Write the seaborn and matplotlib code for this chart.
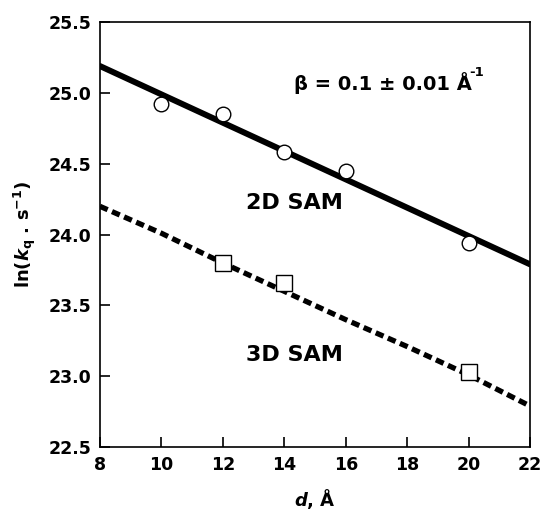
import numpy as np
import pandas as pd
import seaborn as sns
import matplotlib
import matplotlib.pyplot as plt

matplotlib.use('Agg')

# 2D SAM data and fitted line
d_2d = [10, 12, 14, 16, 20]
lnk_2d = [24.92, 24.85, 24.58, 24.45, 23.94]
fit_2d_x = [8, 22]
fit_2d_y = [25.19, 23.79]

# 3D SAM data and fitted (dashed) curve
d_3d = [12, 14, 20]
lnk_3d = [23.80, 23.66, 23.03]
fit_3d_x = [8, 10, 12, 14, 16, 18, 20, 22]
fit_3d_y = [24.20, 24.01, 23.80, 23.60, 23.40, 23.21, 23.01, 22.79]

x_ticks = [8, 10, 12, 14, 16, 18, 20, 22]
y_ticks = [22.5, 23.0, 23.5, 24.0, 24.5, 25.0, 25.5]


def plot_graph(fig_location: str = "out.png"):
    sns.set_style("ticks")
    plt.rcParams['font.family'] = ['DejaVu Sans']
    plt.rcParams['font.weight'] = 'bold'
    plt.rcParams['text.color'] = 'black'
    plt.rcParams['axes.labelcolor'] = 'black'
    plt.rcParams['xtick.color'] = 'black'
    plt.rcParams['ytick.color'] = 'black'
    plt.rcParams['axes.edgecolor'] = 'black'
    plt.rcParams['mathtext.fontset'] = 'custom'
    plt.rcParams['mathtext.rm'] = 'DejaVu Sans:bold'
    plt.rcParams['mathtext.it'] = 'DejaVu Sans:bold:italic'
    plt.rcParams['mathtext.bf'] = 'DejaVu Sans:bold'

    fig = plt.figure(figsize=(5.46, 5.14), dpi=100)
    ax = fig.add_axes([0.183, 0.130, 0.788, 0.827])

    df_fit2 = pd.DataFrame({"d": fit_2d_x, "lnk": fit_2d_y})
    df_fit3 = pd.DataFrame({"d": fit_3d_x, "lnk": fit_3d_y})
    sns.lineplot(data=df_fit2, x="d", y="lnk", color="black", lw=4.3, ax=ax)
    sns.lineplot(data=df_fit3, x="d", y="lnk", color="black", lw=3.8, ax=ax,
                 linestyle=(0, (1.6, 0.9)))

    ax.plot(d_2d, lnk_2d, ls='none', marker='o', ms=10.5, mfc='white',
            mec='black', mew=1.0, zorder=5)
    ax.plot(d_3d, lnk_3d, ls='none', marker='s', ms=11, mfc='white',
            mec='black', mew=1.0, zorder=5)

    ax.set_xlim(8, 22)
    ax.set_ylim(22.5, 25.5)
    ax.set_xticks(x_ticks)
    ax.set_yticks(y_ticks)
    ax.set_yticklabels([f"{v:.1f}" for v in y_ticks])
    ax.tick_params(direction='in', length=7, width=1.2, labelsize=12.5, pad=6)
    for s in ax.spines.values():
        s.set_linewidth(1.2)

    ax.set_xlabel(r'$d$, Å', fontsize=13, fontweight='bold', labelpad=10)
    ax.set_ylabel(r'ln($k_\mathregular{q}$ . s$^{-1}$)', fontsize=13,
                  fontweight='bold', labelpad=8)

    ax.text(14.32, 24.22, "2D SAM", ha='center', va='center', fontsize=16, fontweight='bold')
    ax.text(14.32, 23.15, "3D SAM", ha='center', va='center', fontsize=16, fontweight='bold')

    # beta annotation: plain text + separate superscript
    beta = ax.text(17.2, 25.07, 'β = 0.1 ± 0.01 Å', ha='center', va='center',
                   fontsize=14, fontweight='bold')
    ax.annotate('-1', xy=(1.0, 0.70), xycoords=beta, xytext=(-1.5, 0),
                textcoords='offset points', ha='left', va='bottom',
                fontsize=9.5, fontweight='bold')

    fig.savefig(fig_location, dpi=100)


if __name__ == "__main__":
    plot_graph("out.png")
